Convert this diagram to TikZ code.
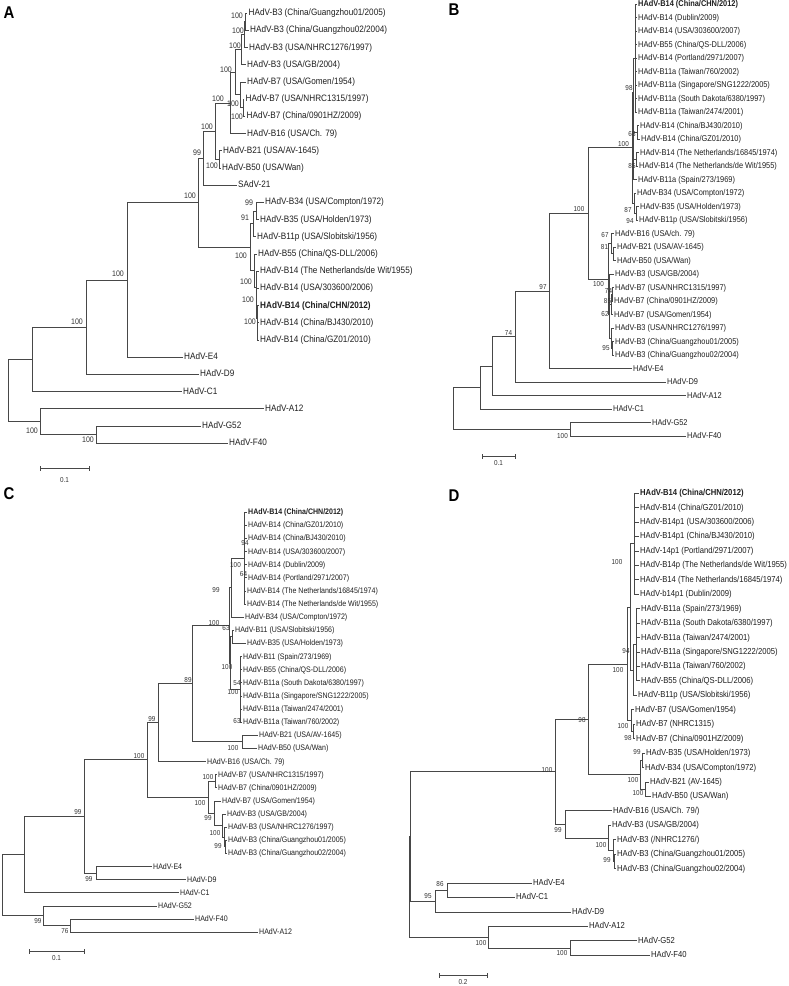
\documentclass[tikz,border=0pt]{standalone}
\usepackage{fontspec}
\setmainfont{Liberation Sans}
\newfontfamily\lfont[FakeStretch=0.88]{Liberation Sans}
\tikzset{
  br/.style={draw=black!72, line width=0.6pt},
  lv/.style={anchor=mid west, inner xsep=1.5pt, inner ysep=0pt, text=black!88},
  bs/.style={anchor=mid, inner sep=0pt, text=black!80},
  plabel/.style={anchor=center, inner sep=0pt, font=\lfont\fontsize{17}{17}\selectfont\bfseries},
  fA/.style={font=\lfont\fontsize{9.3}{10}\selectfont},
  fB/.style={font=\lfont\fontsize{8.4}{9}\selectfont},
  fC/.style={font=\lfont\fontsize{8}{9}\selectfont},
  fD/.style={font=\lfont\fontsize{8.7}{9}\selectfont},
  fbA/.style={font=\lfont\fontsize{8}{8}\selectfont},
  fbS/.style={font=\lfont\fontsize{7.2}{8}\selectfont},
}
\newcommand\Lf[4]{\coordinate (#1) at (#2,#3); \node[lv] (#1t) at (#1) {#4};}
\newcommand\Nd[3]{\coordinate (#1) at (#2,#3);}
\newcommand\Ed[2]{\foreach \ch in {#2}{\draw[br] (#1) |- (\ch);}}
\newcommand\Bs[4]{\node[bs] (#1) at (#2,#3) {#4};}
\newcommand\Sbar[6]{\coordinate (#1a) at (#2,#4); \coordinate (#1b) at (#3,#4);
  \draw[br] (#1a) -- (#1b); \draw[br] ([yshift=-2.5pt]#1a) -- ([yshift=2.5pt]#1a);
  \draw[br] ([yshift=-2.5pt]#1b) -- ([yshift=2.5pt]#1b);
  \node[bs] (#1t) at (#5,#6) {\fontsize{7.2}{8}\selectfont 0.1};}
\begin{document}
\begin{tikzpicture}[x=1pt,y=-1pt]
\useasboundingbox (0,0) rectangle (789,986);
\fill[white] (0,0) rectangle (789,986);
% panel letters
\node[plabel] (pA) at (9,13) {A};
\node[plabel] (pB) at (454,10) {B};
\node[plabel] (pC) at (9,494) {C};
\node[plabel] (pD) at (454,496) {D};

%================ PANEL A
\begin{scope}[lv/.append style={fA}, bs/.append style={fbA}]
\Lf{a0}{247}{13}{HAdV-B3 (China/Guangzhou01/2005)}
\Lf{a1}{248.5}{30.2}{HAdV-B3 (China/Guangzhou02/2004)}
\Lf{a2}{247.5}{47.4}{HAdV-B3 (USA/NHRC1276/1997)}
\Lf{a3}{245.5}{64.6}{HAdV-B3 (USA/GB/2004)}
\Lf{a4}{245.5}{81.8}{HAdV-B7 (USA/Gomen/1954)}
\Lf{a5}{244}{99}{HAdV-B7 (USA/NHRC1315/1997)}
\Lf{a6}{245}{116.2}{HAdV-B7 (China/0901HZ/2009)}
\Lf{a7}{245.5}{133.4}{HAdV-B16 (USA/Ch. 79)}
\Lf{a8}{221.5}{150.6}{HAdV-B21 (USA/AV-1645)}
\Lf{a9}{220.5}{167.8}{HAdV-B50 (USA/Wan)}
\Lf{a10}{236.5}{185}{SAdV-21}
\Lf{a11}{263.5}{202.2}{HAdV-B34 (USA/Compton/1972)}
\Lf{a12}{258.5}{219.4}{HAdV-B35 (USA/Holden/1973)}
\Lf{a13}{255.5}{236.6}{HAdV-B11p (USA/Slobitski/1956)}
\Lf{a14}{256.5}{253.8}{HAdV-B55 (China/QS-DLL/2006)}
\Lf{a15}{258.5}{271}{HAdV-B14 (The Netherlands/de Wit/1955)}
\Lf{a16}{258.5}{288.2}{HAdV-B14 (USA/303600/2006)}
\Lf{a17}{258.5}{305.4}{\bfseries HAdV-B14 (China/CHN/2012)}
\Lf{a18}{258.5}{322.6}{HAdV-B14 (China/BJ430/2010)}
\Lf{a19}{258.5}{339.8}{HAdV-B14 (China/GZ01/2010)}
\Lf{a20}{182.5}{357}{HAdV-E4}
\Lf{a21}{198.5}{374.2}{HAdV-D9}
\Lf{a22}{181.5}{391.4}{HAdV-C1}
\Lf{a23}{263.5}{408.6}{HAdV-A12}
\Lf{a24}{200.5}{425.8}{HAdV-G52}
\Lf{a25}{227.5}{443}{HAdV-F40}
\Nd{na1}{245.5}{21.6} \Ed{na1}{a0,a1}
\Nd{na2}{244}{34.5} \Ed{na2}{na1,a2}
\Nd{na3}{241}{49.6} \Ed{na3}{na2,a3}
\Nd{na4}{243}{107.6} \Ed{na4}{a5,a6}
\Nd{na5}{240}{94.7} \Ed{na5}{a4,na4}
\Nd{na6}{235}{72.2} \Ed{na6}{na3,na5}
\Nd{na7}{230}{102.8} \Ed{na7}{na6,a7}
\Nd{na8}{219}{159.2} \Ed{na8}{a8,a9}
\Nd{na9}{215}{131} \Ed{na9}{na7,na8}
\Nd{na10}{203}{158} \Ed{na10}{na9,a10}
\Nd{na11}{256}{210.8} \Ed{na11}{a11,a12}
\Nd{na12}{253}{223.7} \Ed{na12}{na11,a13}
\Nd{na13}{257.5}{331.2} \Ed{na13}{a18,a19}
\Nd{na14}{257}{318.3} \Ed{na14}{a17,na13}
\Nd{na15}{256.5}{303.3} \Ed{na15}{a16,na14}
\Nd{na16}{256}{287.1} \Ed{na16}{a15,na15}
\Nd{na17}{254.5}{270.5} \Ed{na17}{a14,na16}
\Nd{na18}{250}{247.1} \Ed{na18}{na12,na17}
\Nd{na19}{198}{202.5} \Ed{na19}{na10,na18}
\Nd{na20}{127}{279.8} \Ed{na20}{na19,a20}
\Nd{na21}{86}{327} \Ed{na21}{na20,a21}
\Nd{na22}{32}{359.2} \Ed{na22}{na21,a22}
\Nd{na23}{96}{434.4} \Ed{na23}{a24,a25}
\Nd{na24}{40}{421.5} \Ed{na24}{a23,na23}
\Nd{rootA}{8}{390.4} \Ed{rootA}{na22,na24}
\Bs{la1}{237}{16}{100}
\Bs{la2}{238}{31}{100}
\Bs{la3}{235}{46}{100}
\Bs{la6}{226}{70}{100}
\Bs{la7}{218}{99}{100}
\Bs{la5}{233}{104}{100}
\Bs{la4}{237}{117}{100}
\Bs{la9}{207}{127}{100}
\Bs{la10}{197}{153}{99}
\Bs{la8}{212}{166}{100}
\Bs{la11}{249}{203}{99}
\Bs{la12}{245}{218}{91}
\Bs{la17}{241}{256}{100}
\Bs{la16}{246}{282}{100}
\Bs{la15}{248}{300}{100}
\Bs{la13}{250}{322}{100}
\Bs{la19}{190}{196}{100}
\Bs{la20}{118}{274}{100}
\Bs{la21}{77}{322}{100}
\Bs{la23}{88}{440}{100}
\Bs{la24}{32}{431}{100}
\Sbar{sA}{40}{89}{468}{64.5}{480}
\end{scope}

%================ PANEL B
\begin{scope}[lv/.append style={fB}, bs/.append style={fbS}]
\Lf{b0}{636.5}{4}{\bfseries HAdV-B14 (China/CHN/2012)}
\Lf{b1}{636.5}{17.5}{HAdV-B14 (Dublin/2009)}
\Lf{b2}{636.5}{31}{HAdV-B14 (USA/303600/2007)}
\Lf{b3}{636.5}{44.5}{HAdV-B55 (China/QS-DLL/2006)}
\Lf{b4}{636.5}{58}{HAdV-B14 (Portland/2971/2007)}
\Lf{b5}{636.5}{71.5}{HAdV-B11a (Taiwan/760/2002)}
\Lf{b6}{636.5}{85}{HAdV-B11a (Singapore/SNG1222/2005)}
\Lf{b7}{636.5}{98.5}{HAdV-B11a (South Dakota/6380/1997)}
\Lf{b8}{636.5}{112}{HAdV-B11a (Taiwan/2474/2001)}
\Lf{b9}{638.5}{125.5}{HAdV-B14 (China/BJ430/2010)}
\Lf{b10}{639.5}{139}{HAdV-B14 (China/GZ01/2010)}
\Lf{b11}{638.5}{152.5}{HAdV-B14 (The Netherlands/16845/1974)}
\Lf{b12}{637.5}{166}{HAdV-B14 (The Netherlands/de Wit/1955)}
\Lf{b13}{636.5}{179.5}{HAdV-B11a (Spain/273/1969)}
\Lf{b14}{635.5}{193}{HAdV-B34 (USA/Compton/1972)}
\Lf{b15}{638.5}{206.5}{HAdV-B35 (USA/Holden/1973)}
\Lf{b16}{637.5}{220}{HAdV-B11p (USA/Slobitski/1956)}
\Lf{b17}{613.5}{233.5}{HAdV-B16 (USA/ch. 79)}
\Lf{b18}{615.5}{247}{HAdV-B21 (USA/AV-1645)}
\Lf{b19}{615.5}{260.5}{HAdV-B50 (USA/Wan)}
\Lf{b20}{613.5}{274}{HAdV-B3 (USA/GB/2004)}
\Lf{b21}{613.5}{287.5}{HAdV-B7 (USA/NHRC1315/1997)}
\Lf{b22}{612.5}{301}{HAdV-B7 (China/0901HZ/2009)}
\Lf{b23}{612.5}{314.5}{HAdV-B7 (USA/Gomen/1954)}
\Lf{b24}{613.5}{328}{HAdV-B3 (USA/NHRC1276/1997)}
\Lf{b25}{613.5}{341.5}{HAdV-B3 (China/Guangzhou01/2005)}
\Lf{b26}{613.5}{355}{HAdV-B3 (China/Guangzhou02/2004)}
\Lf{b27}{631.5}{368.5}{HAdV-E4}
\Lf{b28}{665.5}{382}{HAdV-D9}
\Lf{b29}{685.5}{395.5}{HAdV-A12}
\Lf{b30}{611.5}{409}{HAdV-C1}
\Lf{b31}{650.5}{422.5}{HAdV-G52}
\Lf{b32}{685.5}{436}{HAdV-F40}
\Nd{nbpa}{635}{58} \Ed{nbpa}{b0,b1,b2,b3,b4,b5,b6,b7,b8}
\Nd{nb68}{637}{132.25} \Ed{nb68}{b9,b10}
\Nd{nb85}{636.5}{159.25} \Ed{nb85}{b11,b12}
\Nd{nb98}{633.5}{92} \Ed{nb98}{nbpa,nb68,nb85,b13}
\Nd{nb94}{636}{213.25} \Ed{nb94}{b15,b16}
\Nd{nb87}{634}{203.1} \Ed{nb87}{b14,nb94}
\Nd{nba}{632}{147.5} \Ed{nba}{nb98,nb87}
\Nd{nb81}{613}{253.75} \Ed{nb81}{b18,b19}
\Nd{nb67}{611}{243.6} \Ed{nb67}{b17,nb81}
\Nd{nbb7}{612}{294.25} \Ed{nbb7}{b21,b22}
\Nd{nb62}{611}{304.4} \Ed{nb62}{nbb7,b23}
\Nd{nb95}{612}{348.25} \Ed{nb95}{b25,b26}
\Nd{nbb3}{611}{338.1} \Ed{nbb3}{b24,nb95}
\Nd{nbb37}{609.5}{314.5} \Ed{nbb37}{b20,nb62,nbb3}
\Nd{nbo}{608}{279} \Ed{nbo}{nb67,nbb37}
\Nd{nbb}{588}{213.3} \Ed{nbb}{nba,nbo}
\Nd{nb97}{549}{290.9} \Ed{nb97}{nbb,b27}
\Nd{nb74}{515}{336.4} \Ed{nb74}{nb97,b28}
\Nd{nb492}{492}{366} \Ed{nb492}{nb74,b29}
\Nd{nb480}{480}{387.5} \Ed{nb480}{nb492,b30}
\Nd{nbgf}{570}{429.25} \Ed{nbgf}{b31,b32}
\Nd{rootB}{453}{408.4} \Ed{rootB}{nb480,nbgf}
\Bs{lb1}{629}{88}{98}
\Bs{lb2}{623.5}{144}{100}
\Bs{lb3}{632}{133.5}{68}
\Bs{lb4}{632}{166}{85}
\Bs{lb5}{628}{210}{87}
\Bs{lb6}{630}{221}{94}
\Bs{lb7}{579}{209}{100}
\Bs{lb8}{605}{235}{67}
\Bs{lb9}{604.5}{247}{81}
\Bs{lb10}{598.5}{284}{100}
\Bs{lb11}{608.5}{290.5}{74}
\Bs{lb12}{607.5}{301}{85}
\Bs{lb13}{605}{314}{62}
\Bs{lb14}{606}{348}{95}
\Bs{lb15}{543}{287}{97}
\Bs{lb16}{508.5}{333}{74}
\Bs{lb17}{562.5}{436}{100}
\Sbar{sB}{482}{515}{456}{498.5}{463}
\end{scope}

%================ PANEL C
\begin{scope}[lv/.append style={fC}, bs/.append style={fbS}]
\Lf{c0}{246.5}{512}{\bfseries HAdV-B14 (China/CHN/2012)}
\Lf{c1}{246.5}{525.1}{HAdV-B14 (China/GZ01/2010)}
\Lf{c2}{246.5}{538.3}{HAdV-B14 (China/BJ430/2010)}
\Lf{c3}{246.5}{551.4}{HAdV-B14 (USA/303600/2007)}
\Lf{c4}{246.5}{564.5}{HAdV-B14 (Dublin/2009)}
\Lf{c5}{246.5}{577.6}{HAdV-B14 (Portland/2971/2007)}
\Lf{c6}{245.5}{590.8}{HAdV-B14 (The Netherlands/16845/1974)}
\Lf{c7}{245.5}{603.9}{HAdV-B14 (The Netherlands/de Wit/1955)}
\Lf{c8}{243.5}{617}{HAdV-B34 (USA/Compton/1972)}
\Lf{c9}{233.5}{630.1}{HAdV-B11 (USA/Slobitski/1956)}
\Lf{c10}{245.5}{643.3}{HAdV-B35 (USA/Holden/1973)}
\Lf{c11}{241.5}{656.4}{HAdV-B11 (Spain/273/1969)}
\Lf{c12}{241.5}{669.5}{HAdV-B55 (China/QS-DLL/2006)}
\Lf{c13}{241.5}{682.6}{HAdV-B11a (South Dakota/6380/1997)}
\Lf{c14}{241.5}{695.8}{HAdV-B11a (Singapore/SNG1222/2005)}
\Lf{c15}{241.5}{708.9}{HAdV-B11a (Taiwan/2474/2001)}
\Lf{c16}{241.5}{722}{HAdV-B11a (Taiwan/760/2002)}
\Lf{c17}{257.5}{735.1}{HAdV-B21 (USA/AV-1645)}
\Lf{c18}{256.5}{748.3}{HAdV-B50 (USA/Wan)}
\Lf{c19}{205.5}{761.4}{HAdV-B16 (USA/Ch. 79)}
\Lf{c20}{216.5}{774.5}{HAdV-B7 (USA/NHRC1315/1997)}
\Lf{c21}{216.5}{787.6}{HAdV-B7 (China/0901HZ/2009)}
\Lf{c22}{220.5}{800.8}{HAdV-B7 (USA/Gomen/1954)}
\Lf{c23}{225.5}{813.9}{HAdV-B3 (USA/GB/2004)}
\Lf{c24}{226.5}{827}{HAdV-B3 (USA/NHRC1276/1997)}
\Lf{c25}{226.5}{840.1}{HAdV-B3 (China/Guangzhou01/2005)}
\Lf{c26}{226.5}{853.3}{HAdV-B3 (China/Guangzhou02/2004)}
\Lf{c27}{151.5}{866.4}{HAdV-E4}
\Lf{c28}{185.5}{879.5}{HAdV-D9}
\Lf{c29}{178.5}{892.6}{HAdV-C1}
\Lf{c30}{156.5}{905.8}{HAdV-G52}
\Lf{c31}{193.5}{918.9}{HAdV-F40}
\Lf{c32}{257.5}{932}{HAdV-A12}
\Nd{ncp}{244}{558} \Ed{ncp}{c0,c1,c2,c3,c4,c5,c6,c7}
\Nd{nc99c}{231}{587.5} \Ed{nc99c}{ncp,c8}
\Nd{ncr}{232}{636.7} \Ed{ncr}{c9,c10}
\Nd{nc11}{240}{689.2} \Ed{nc11}{c11,c12,c13,c14,c15,c16}
\Nd{nc63}{230.5}{663} \Ed{nc63}{ncr,nc11}
\Nd{ncd}{229}{625} \Ed{ncd}{nc99c,nc63}
\Nd{nce}{242}{741.7} \Ed{nce}{c17,c18}
\Nd{nc89}{192}{683.4} \Ed{nc89}{ncd,nce}
\Nd{nc99b}{158}{722.4} \Ed{nc99b}{nc89,c19}
\Nd{ncb7}{215}{781} \Ed{ncb7}{c20,c21}
\Nd{ncgz}{225}{846.7} \Ed{ncgz}{c25,c26}
\Nd{ncb3b}{224}{836.9} \Ed{ncb3b}{c24,ncgz}
\Nd{ncb3}{222}{825.4} \Ed{ncb3}{c23,ncb3b}
\Nd{nc99d}{214}{813.1} \Ed{nc99d}{c22,ncb3}
\Nd{ncb37}{208}{797} \Ed{ncb37}{ncb7,nc99d}
\Nd{ncc}{147}{759.7} \Ed{ncc}{nc99b,ncb37}
\Nd{ncde}{96}{873} \Ed{ncde}{c27,c28}
\Nd{nc99a}{84}{816.3} \Ed{nc99a}{ncc,ncde}
\Nd{ncig}{24}{854.5} \Ed{ncig}{nc99a,c29}
\Nd{nc76}{70}{925.5} \Ed{nc76}{c31,c32}
\Nd{nc99o}{43}{915.6} \Ed{nc99o}{c30,nc76}
\Nd{rootC}{2}{885} \Ed{rootC}{ncig,nc99o}
\Bs{lc1}{245}{543}{94}
\Bs{lc2}{235.5}{565}{100}
\Bs{lc3}{243.5}{573.5}{64}
\Bs{lc4}{216}{590}{99}
\Bs{lc5}{214}{623}{100}
\Bs{lc6}{226}{628}{63}
\Bs{lc7}{227}{667}{100}
\Bs{lc8}{237}{683}{54}
\Bs{lc9}{233}{692}{100}
\Bs{lc10}{237}{721}{63}
\Bs{lc11}{188}{680}{89}
\Bs{lc12}{152}{719}{99}
\Bs{lc13}{233}{748}{100}
\Bs{lc14}{139}{756}{100}
\Bs{lc15}{208}{777}{100}
\Bs{lc16}{200}{803}{100}
\Bs{lc17}{208}{818}{99}
\Bs{lc18}{215}{833}{100}
\Bs{lc19}{218}{846}{99}
\Bs{lc20}{78}{812}{99}
\Bs{lc21}{89}{879}{99}
\Bs{lc22}{38}{921}{99}
\Bs{lc23}{65}{931}{76}
\Sbar{sC}{29}{84}{951}{56.5}{958}
\end{scope}

%================ PANEL D
\begin{scope}[lv/.append style={fD}, bs/.append style={fbS}]
\Lf{d0}{638.5}{493}{\bfseries HAdV-B14 (China/CHN/2012)}
\Lf{d1}{638.5}{507.4}{HAdV-B14 (China/GZ01/2010)}
\Lf{d2}{638.5}{521.9}{HAdV-B14p1 (USA/303600/2006)}
\Lf{d3}{638.5}{536.3}{HAdV-B14p1 (China/BJ430/2010)}
\Lf{d4}{638.5}{550.8}{HAdV-14p1 (Portland/2971/2007)}
\Lf{d5}{638.5}{565.2}{HAdV-B14p (The Netherlands/de Wit/1955)}
\Lf{d6}{638.5}{579.6}{HAdV-B14 (The Netherlands/16845/1974)}
\Lf{d7}{638.5}{594.1}{HAdV-b14p1 (Dublin/2009)}
\Lf{d8}{639.5}{608.5}{HAdV-B11a (Spain/273/1969)}
\Lf{d9}{639.5}{623}{HAdV-B11a (South Dakota/6380/1997)}
\Lf{d10}{639.5}{637.4}{HAdV-B11a (Taiwan/2474/2001)}
\Lf{d11}{639.5}{651.8}{HAdV-B11a (Singapore/SNG1222/2005)}
\Lf{d12}{639.5}{666.3}{HAdV-B11a (Taiwan/760/2002)}
\Lf{d13}{639.5}{680.7}{HAdV-B55 (China/QS-DLL/2006)}
\Lf{d14}{636.5}{695.2}{HAdV-B11p (USA/Slobitski/1956)}
\Lf{d15}{633.5}{709.6}{HAdV-B7 (USA/Gomen/1954)}
\Lf{d16}{634.5}{724}{HAdV-B7 (NHRC1315)}
\Lf{d17}{634.5}{738.5}{HAdV-B7 (China/0901HZ/2009)}
\Lf{d18}{644.5}{752.9}{HAdV-B35 (USA/Holden/1973)}
\Lf{d19}{643.5}{767.4}{HAdV-B34 (USA/Compton/1972)}
\Lf{d20}{648.5}{781.8}{HAdV-B21 (AV-1645)}
\Lf{d21}{650.5}{796.2}{HAdV-B50 (USA/Wan)}
\Lf{d22}{611.5}{810.7}{HAdV-B16 (USA/Ch. 79/)}
\Lf{d23}{610.5}{825.1}{HAdV-B3 (USA/GB/2004)}
\Lf{d24}{615.5}{839.6}{HAdV-B3 (/NHRC1276/)}
\Lf{d25}{615.5}{854}{HAdV-B3 (China/Guangzhou01/2005)}
\Lf{d26}{615.5}{868.4}{HAdV-B3 (China/Guangzhou02/2004)}
\Lf{d27}{531.5}{882.9}{HAdV-E4}
\Lf{d28}{514.5}{897.3}{HAdV-C1}
\Lf{d29}{570.5}{911.8}{HAdV-D9}
\Lf{d30}{587.5}{926.2}{HAdV-A12}
\Lf{d31}{636.5}{940.6}{HAdV-G52}
\Lf{d32}{649.5}{955}{HAdV-F40}
\Nd{ndp}{634}{543.5} \Ed{ndp}{d0,d1,d2,d3,d4,d5,d6,d7}
\Nd{nda}{636}{644.6} \Ed{nda}{d8,d9,d10,d11,d12,d13}
\Nd{nd94}{633}{670} \Ed{nd94}{nda,d14}
\Nd{ndt}{630}{607} \Ed{ndt}{ndp,nd94}
\Nd{ndb7a}{633}{731.3} \Ed{ndb7a}{d16,d17}
\Nd{ndb7}{631}{720.5} \Ed{ndb7}{d15,ndb7a}
\Nd{ndx}{627}{663.8} \Ed{ndx}{ndt,ndb7}
\Nd{nd99a}{642.5}{760.2} \Ed{nd99a}{d18,d19}
\Nd{ndbb}{645}{789} \Ed{ndbb}{d20,d21}
\Nd{ndgrp}{640}{774.6} \Ed{ndgrp}{nd99a,ndbb}
\Nd{nd98}{588}{719.2} \Ed{nd98}{ndx,ndgrp}
\Nd{ndg}{614.5}{861.2} \Ed{ndg}{d25,d26}
\Nd{ndb3c}{613}{850.4} \Ed{ndb3c}{d24,ndg}
\Nd{ndb3}{608}{837.8} \Ed{ndb3}{d23,ndb3c}
\Nd{nd99}{565}{824.2} \Ed{nd99}{d22,ndb3}
\Nd{ndB}{555}{771.7} \Ed{ndB}{nd98,nd99}
\Nd{nd86}{447}{890.1} \Ed{nd86}{d27,d28}
\Nd{nd95}{435}{901} \Ed{nd95}{nd86,d29}
\Nd{ndig}{410.5}{836.3} \Ed{ndig}{ndB,nd95}
\Nd{ndgf}{570}{947.8} \Ed{ndgf}{d31,d32}
\Nd{ndo}{488}{937} \Ed{ndo}{d30,ndgf}
\Nd{rootD}{409}{886.7} \Ed{rootD}{ndig,ndo}
\Bs{ld1}{547}{770}{100}
\Bs{ld2}{582}{720}{98}
\Bs{ld3}{618}{670}{100}
\Bs{ld4}{617}{562}{100}
\Bs{ld5}{626}{651}{94}
\Bs{ld6}{623}{726}{100}
\Bs{ld7}{628}{738}{98}
\Bs{ld8}{637}{752}{99}
\Bs{ld9}{633}{780}{100}
\Bs{ld10}{638}{793}{100}
\Bs{ld11}{558}{830}{99}
\Bs{ld12}{601}{845}{100}
\Bs{ld13}{607}{860}{99}
\Bs{ld14}{440}{884}{86}
\Bs{ld15}{428}{896}{95}
\Bs{ld16}{481}{943}{100}
\Bs{ld17}{562}{953}{100}
\coordinate (sDa) at (439,975); \coordinate (sDb) at (487,975);
\draw[br] (sDa) -- (sDb);
\draw[br] ([yshift=-2.5pt]sDa) -- ([yshift=2.5pt]sDa);
\draw[br] ([yshift=-2.5pt]sDb) -- ([yshift=2.5pt]sDb);
\node[bs] (sDt) at (463,982) {0.2};
\end{scope}
\end{tikzpicture}
\end{document}
